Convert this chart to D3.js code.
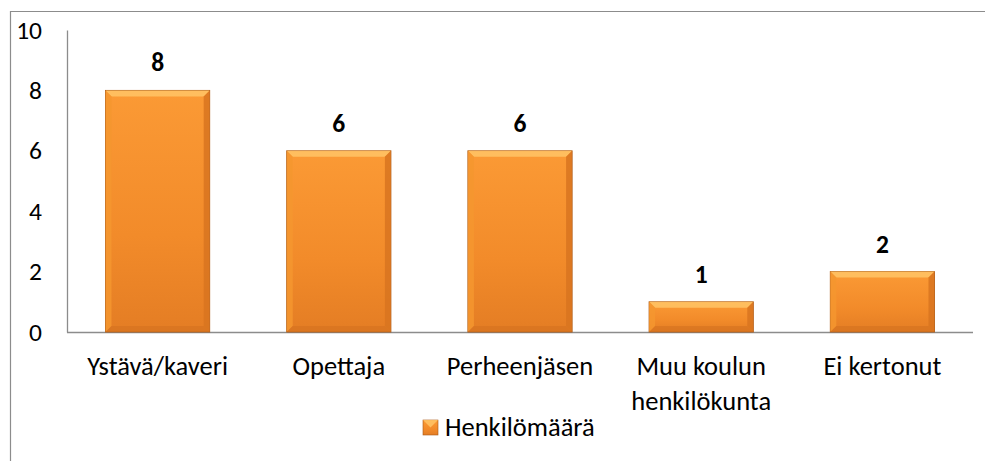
<!DOCTYPE html>
<meta charset="utf-8">
<script src="https://d3js.org/d3.v7.min.js"></script>
<style>
  body { margin: 0; background: #fff; }
  text { font-family: Carlito, Lato, "Open Sans", sans-serif; }
</style>
<div id="chart"></div>
<script>

// data
var categories = ["Ystävä/kaveri", "Opettaja", "Perheenjäsen", "Muu koulun henkilökunta", "Ei kertonut"];
var values = [8, 6, 6, 1, 2];
var yTicks = [0, 2, 4, 6, 8, 10];
var seriesName = "Henkilömäärä";

var width = 985, height = 461;
var margin = {top: 30, right: 12, bottom: 129, left: 67};
var fontSize = 26.5;

var svg = d3.select("#chart")
  .append("svg")
    .attr("width", width)
    .attr("height", height);

var defs = svg.append("defs");
var grad = defs.append("linearGradient")
    .attr("id", "barGrad")
    .attr("x1", 0).attr("y1", 0).attr("x2", 0).attr("y2", 1);
grad.append("stop").attr("offset", "0%").attr("stop-color", "#fb9a35");
grad.append("stop").attr("offset", "60%").attr("stop-color", "#f28b2a");
grad.append("stop").attr("offset", "100%").attr("stop-color", "#e47d24");

// outer chart frame (cut off on right and bottom)
svg.append("path")
    .attr("d", "M10.5," + height + "V11.5H" + width)
    .attr("fill", "none")
    .attr("stroke", "#8c8c8c")
    .attr("stroke-width", 1.2);

var x = d3.scaleBand()
    .domain(categories)
    .range([margin.left, width - margin.right])
    .paddingInner(0.425)
    .paddingOuter(0.2125);

var y = d3.scaleLinear()
    .domain([0, 10])
    .range([height - margin.bottom, margin.top]);

// y axis
var yAxis = svg.append("g")
    .attr("transform", "translate(" + margin.left + ",0)")
    .call(d3.axisLeft(y).tickValues(yTicks).tickSize(0).tickPadding(25));
yAxis.select(".domain").attr("stroke", "#8c8c8c").attr("stroke-width", 1.3);
yAxis.selectAll("text")
    .attr("font-size", 25.5)
    .attr("fill", "#000")
    .attr("font-family", "Carlito, Lato, sans-serif")
    .attr("text-anchor", "end");

// baseline
svg.append("line")
    .attr("x1", margin.left).attr("x2", width - margin.right)
    .attr("y1", y(0) + 0.5).attr("y2", y(0) + 0.5)
    .attr("stroke", "#8c8c8c")
    .attr("stroke-width", 1.3);

var data = categories.map(function (c, i) { return {cat: c, v: values[i]}; });
var bev = 6;

var bars = svg.append("g").selectAll("g.bar")
  .data(data)
  .enter().append("g")
    .attr("class", "bar");

bars.append("rect")
    .attr("x", function (d) { return x(d.cat); })
    .attr("y", function (d) { return y(d.v); })
    .attr("width", x.bandwidth())
    .attr("height", function (d) { return y(0) - y(d.v); })
    .attr("fill", "url(#barGrad)")
    .attr("stroke", "#a95816")
    .attr("stroke-width", 0.9);

// bevel: top light, sides shaded, bottom dark
function bevelPath(d, side) {
  var x0 = x(d.cat), x1 = x0 + x.bandwidth(), y0 = y(d.v), y1 = y(0);
  if (side == "top") return [[x0, y0], [x1, y0], [x1 - bev, y0 + bev], [x0 + bev, y0 + bev]];
  if (side == "left") return [[x0, y0], [x0 + bev, y0 + bev], [x0 + bev, y1 - bev], [x0, y1]];
  if (side == "right") return [[x1, y0], [x1 - bev, y0 + bev], [x1 - bev, y1 - bev], [x1, y1]];
  return [[x0, y1], [x0 + bev, y1 - bev], [x1 - bev, y1 - bev], [x1, y1]];
}
var bevelFill = {top: "#ffc466", left: "#f5972f", right: "#d87420", bottom: "#d4721f"};
["top", "left", "right", "bottom"].forEach(function (side) {
  bars.append("polygon")
      .attr("points", function (d) { return bevelPath(d, side).join(" "); })
      .attr("fill", bevelFill[side])
      .attr("opacity", side == "bottom" ? 0.6 : 0.85);
});

// value labels
bars.append("text")
    .attr("x", function (d) { return x(d.cat) + x.bandwidth() / 2; })
    .attr("y", function (d) { return y(d.v) - 19; })
    .attr("text-anchor", "middle")
    .attr("font-size", 25.5)
    .attr("font-weight", "bold")
    .text(function (d) { return d.v; });

// category labels, wrapped
var catLabels = svg.append("g").selectAll("text")
  .data(categories)
  .enter().append("text")
    .attr("x", function (d) { return x(d) + x.bandwidth() / 2; })
    .attr("y", y(0) + 43)
    .attr("text-anchor", "middle")
    .attr("font-size", fontSize);
catLabels.each(function (d) {
  var lines = d == "Muu koulun henkilökunta" ? ["Muu koulun", "henkilökunta"] : [d];
  var t = d3.select(this);
  lines.forEach(function (l, i) {
    t.append("tspan")
        .attr("x", t.attr("x"))
        .attr("dy", i == 0 ? 0 : 35)
        .text(l);
  });
});

// legend
var legend = svg.append("g").attr("transform", "translate(423,420)");
legend.append("rect")
    .attr("width", 15).attr("height", 15)
    .attr("fill", "url(#barGrad)")
    .attr("stroke", "#a95816")
    .attr("stroke-width", 0.6);
legend.append("polygon")
    .attr("points", "0,0 15,0 7.5,7.5")
    .attr("fill", "#ffc466")
    .attr("opacity", 0.85);
legend.append("text")
    .attr("x", 22).attr("y", 16)
    .attr("font-size", fontSize)
    .text(seriesName);

</script>
